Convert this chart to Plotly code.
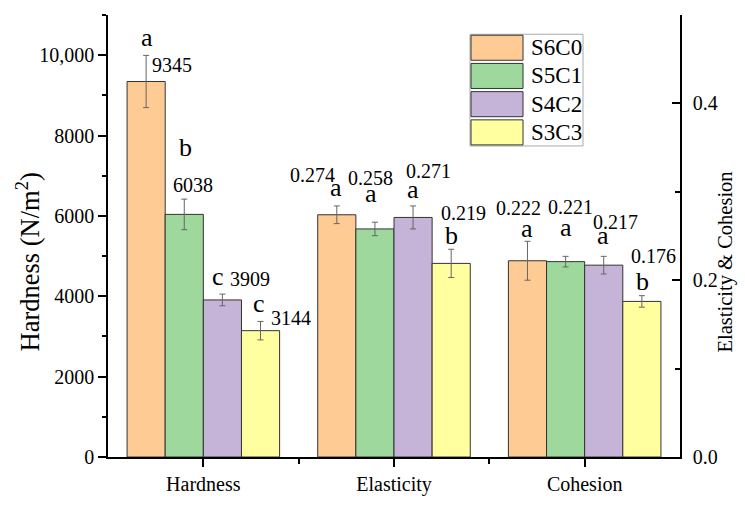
import plotly.graph_objects as go

# ---------------- data ----------------
categories = ["Hardness", "Elasticity", "Cohesion"]
series = ["S6C0", "S5C1", "S4C2", "S3C3"]
colors = ["#FFCB95", "#9ED89C", "#C5B4D8", "#FFFFA0"]

hardness = [9345, 6038, 3909, 3144]
hardness_err = [650, 380, 145, 230]
elasticity = [0.274, 0.258, 0.271, 0.219]
elasticity_err = [0.010, 0.0076, 0.013, 0.016]
cohesion = [0.222, 0.221, 0.217, 0.176]
cohesion_err = [0.022, 0.006, 0.010, 0.0065]

hardness_letters = ["a", "b", "c", "c"]
elasticity_letters = ["a", "a", "a", "b"]
cohesion_letters = ["a", "a", "a", "b"]

hardness_labels = ["9345", "6038", "3909", "3144"]
elasticity_labels = ["0.274", "0.258", "0.271", "0.219"]
cohesion_labels = ["0.222", "0.221", "0.217", "0.176"]

left_tickvals = [0, 2000, 4000, 6000, 8000, 10000]
left_ticktext = ["0", "2000", "4000", "6000", "8000", "10,000"]
right_tickvals = [0.0, 0.2, 0.4]
right_ticktext = ["0.0", "0.2", "0.4"]

left_title = "Hardness (N/m<sup>2</sup>)"
right_title = "Elasticity &amp; Cohesion"

# ---------------- style / layout constants ----------------
FONT = "Liberation Serif, Times New Roman, serif"
BAR_W = 0.2
offsets = [-0.4, -0.2, 0.0, 0.2]          # left edge offset of each series bar
# label placement (pixel shifts relative to bar centre / error-bar top)
letter_shift = {
    "Hardness":   [(1, 18), (1, 52), (-4, 18), (-2, 18)],
    "Elasticity": [(-1, 18), (-4, 29), (0, 16), (0, 14)],
    "Cohesion":   [(0, 13), (0, 29), (-1, 21), (1, 14)],
}
value_shift = {
    "Hardness":   [(26, -10), (9, 14), (28, 15), (30, 3)],
    "Elasticity": [(-24, 31), (-4, 44), (15, 35), (12, 36)],
    "Cohesion":   [(-9, 33), (5, 49), (12, 34), (12, 40)],
}

W, H = 745, 508
ML, MR, MT, MB = 108, 65, 15, 34
PW, PH = W - ML - MR, H - MT - MB


def px_x(px):
    return (px - ML) / PW


def px_y(py):
    return (H - MB - py) / PH


fig = go.Figure()
err_style = dict(type="data", visible=True, color="#666666", thickness=1, width=3)

for i, name in enumerate(series):
    fig.add_trace(go.Bar(
        x=[0], y=[hardness[i]], width=BAR_W, offset=offsets[i],
        error_y=dict(array=[hardness_err[i]], **err_style),
        marker=dict(color=colors[i], line=dict(color="#333333", width=1)),
        name=name, showlegend=False, yaxis="y", xaxis="x",
    ))
    fig.add_trace(go.Bar(
        x=[1, 2], y=[elasticity[i], cohesion[i]], width=BAR_W, offset=offsets[i],
        error_y=dict(array=[elasticity_err[i], cohesion_err[i]], **err_style),
        marker=dict(color=colors[i], line=dict(color="#333333", width=1)),
        name=name, showlegend=False, yaxis="y2", xaxis="x",
    ))

annotations = []
groups = [
    ("Hardness", 0, hardness, hardness_err, hardness_letters, hardness_labels, "y"),
    ("Elasticity", 1, elasticity, elasticity_err, elasticity_letters, elasticity_labels, "y2"),
    ("Cohesion", 2, cohesion, cohesion_err, cohesion_letters, cohesion_labels, "y2"),
]
for cat, idx, vals, errs, letters, labels, yref in groups:
    for i in range(len(series)):
        xc = idx + offsets[i] + BAR_W / 2
        ytop = vals[i] + errs[i]
        lx, ly = letter_shift[cat][i]
        vx, vy = value_shift[cat][i]
        annotations.append(dict(
            x=xc, y=ytop, xref="x", yref=yref, text=letters[i], showarrow=False,
            xshift=lx, yshift=ly, xanchor="center", yanchor="middle",
            font=dict(family=FONT, size=26, color="black"),
        ))
        annotations.append(dict(
            x=xc, y=ytop, xref="x", yref=yref, text=labels[i], showarrow=False,
            xshift=vx, yshift=vy, xanchor="center", yanchor="middle",
            font=dict(family=FONT, size=20, color="black"),
        ))

# axis titles (placed as rotated annotations to match the reference offsets)
annotations.append(dict(
    x=px_x(28), y=px_y(272), xref="paper", yref="paper", text=left_title,
    textangle=-90, showarrow=False, xanchor="center", yanchor="middle",
    font=dict(family=FONT, size=26.5, color="black"),
))
annotations.append(dict(
    x=px_x(725), y=px_y(272), xref="paper", yref="paper", text=right_title,
    textangle=-90, showarrow=False, xanchor="center", yanchor="middle",
    font=dict(family=FONT, size=20.5, color="black"),
))

# manual legend (large swatches as in the reference)
shapes = []
LEG_L, LEG_R, LEG_T, LEG_B = 470, 583, 35, 151
shapes.append(dict(type="rect", xref="paper", yref="paper",
                   x0=px_x(LEG_L), x1=px_x(LEG_R), y0=px_y(LEG_B), y1=px_y(LEG_T),
                   line=dict(color="#AAAAAA", width=1), fillcolor="white", layer="above"))
for i, name in enumerate(series):
    top = 36 + i * 29.3
    shapes.append(dict(type="rect", xref="paper", yref="paper",
                       x0=px_x(471), x1=px_x(523), y0=px_y(top + 26), y1=px_y(top),
                       line=dict(color="#333333", width=1), fillcolor=colors[i], layer="above"))
    annotations.append(dict(
        x=px_x(529), y=px_y(top + 13), xref="paper", yref="paper", text=name,
        showarrow=False, xanchor="left", yanchor="middle",
        font=dict(family=FONT, size=23, color="black"),
    ))

fig.update_layout(
    width=W, height=H,
    margin=dict(l=ML, r=MR, t=MT, b=MB, pad=0),
    paper_bgcolor="white", plot_bgcolor="white",
    barmode="overlay",
    font=dict(family=FONT, color="black"),
    xaxis=dict(
        range=[-0.5, 2.5], tickvals=list(range(len(categories))), ticktext=categories,
        showline=True, linecolor="black", linewidth=1.5, ticks="outside", ticklen=8,
        tickwidth=1.5, tickcolor="black", showgrid=False, zeroline=False,
        tickfont=dict(family=FONT, size=20),
        minor=dict(tickvals=[0.5, 1.5], ticks="outside", ticklen=5, tickwidth=1.5,
                   tickcolor="black", showgrid=False),
    ),
    yaxis=dict(
        range=[0, 11000], tickvals=left_tickvals, ticktext=left_ticktext,
        showline=True, linecolor="black", linewidth=1.5, ticks="outside", ticklen=8,
        tickwidth=1.5, tickcolor="black", showgrid=False, zeroline=False,
        tickfont=dict(family=FONT, size=20),
        minor=dict(dtick=1000, ticks="outside", ticklen=4, tickwidth=1.5,
                   tickcolor="black", showgrid=False),
    ),
    yaxis2=dict(
        range=[0, 0.5], tickvals=right_tickvals, ticktext=right_ticktext,
        overlaying="y", side="right",
        showline=True, linecolor="black", linewidth=1.5, ticks="inside", ticklen=8,
        tickwidth=1.5, tickcolor="black", showgrid=False, zeroline=False,
        tickfont=dict(family=FONT, size=20), ticklabelstandoff=7,
        minor=dict(dtick=0.1, ticks="inside", ticklen=5, tickwidth=1.5,
                   tickcolor="black", showgrid=False),
    ),
    annotations=annotations,
    shapes=shapes,
)

fig.write_html("out.html")
